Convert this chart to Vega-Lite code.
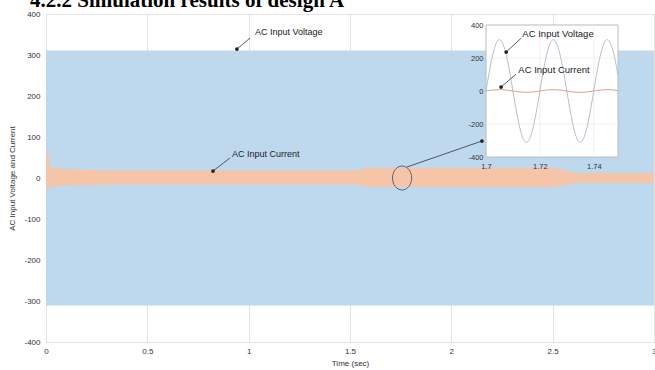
{
  "$schema": "https://vega.github.io/schema/vega-lite/v6.json",
  "width": 608,
  "height": 328,
  "autosize": {"type": "none"},
  "padding": {"left": 46, "top": 14, "right": 1, "bottom": 28},
  "background": "white",
  "config": {
    "view": {"stroke": "#9a9a9a", "strokeWidth": 1},
    "font": "Liberation Sans",
    "axis": {"labelFont": "Liberation Sans", "titleFont": "Liberation Sans", "labelColor": "#333333", "titleColor": "#333333", "labelFontSize": 8, "titleFontSize": 8, "titleFontWeight": "normal"}
  },
  "layer": [
    {
      "layer": [
        {
          "data": {"values": [{"t": 0, "v": 311, "v2": -311}, {"t": 3, "v": 311, "v2": -311}]},
          "mark": {"type": "area", "color": "#bed8ee", "opacity": 1},
          "encoding": {
            "x": {"field": "t", "type": "quantitative", "scale": {"domain": [0, 3], "nice": false, "zero": false},
              "axis": {"values": [0, 0.5, 1, 1.5, 2, 2.5, 3], "labelExpr": "'' + datum.value", "title": "Time (sec)", "grid": true, "gridColor": "#e3e3e3", "ticks": false, "domain": false, "labelPadding": 5, "titlePadding": 4, "labelFlush": false, "labelOverlap": false}},
            "y": {"field": "v", "type": "quantitative", "scale": {"domain": [-400, 400], "nice": false, "zero": false},
              "axis": {"values": [-400, -300, -200, -100, 0, 100, 200, 300, 400], "labelExpr": "'' + datum.value", "title": "AC Input Voltage and Current", "grid": true, "gridColor": "#e3e3e3", "ticks": false, "domain": false, "labelPadding": 6, "titlePadding": 7, "labelFlush": false, "labelOverlap": false}},
            "y2": {"field": "v2"}
          }
        },
        {
          "data": {"values": [
            {"t": 0, "v": 0, "v2": 0},
            {"t": 0.004, "v": 60, "v2": -30},
            {"t": 0.012, "v": 60, "v2": -30},
            {"t": 0.02, "v": 25, "v2": -20},
            {"t": 0.1, "v": 22, "v2": -18},
            {"t": 0.3, "v": 18, "v2": -16},
            {"t": 1.55, "v": 18, "v2": -16},
            {"t": 1.58, "v": 25, "v2": -22},
            {"t": 2.5, "v": 25, "v2": -22},
            {"t": 2.62, "v": 12, "v2": -12},
            {"t": 3, "v": 12, "v2": -12}
          ]},
          "mark": {"type": "area", "color": "#f6c4a6", "opacity": 1},
          "encoding": {
            "x": {"field": "t", "type": "quantitative"},
            "y": {"field": "v", "type": "quantitative"},
            "y2": {"field": "v2"}
          }
        },
        {
          "data": {"values": [
            {"t": 0.942, "v": 314.6, "t2": 1.007, "v2": 341.5},
            {"t": 0.824, "v": 17, "t2": 0.908, "v2": 48.8},
            {"t": 1.781, "v": 26.8, "t2": 2.151, "v2": 90.2}
          ]},
          "mark": {"type": "rule", "color": "#333333", "strokeWidth": 0.8},
          "encoding": {
            "x": {"field": "t", "type": "quantitative"},
            "y": {"field": "v", "type": "quantitative"},
            "x2": {"field": "t2"},
            "y2": {"field": "v2"}
          }
        },
        {
          "data": {"values": [{"t": 0.942, "v": 314.6}, {"t": 0.824, "v": 17}, {"t": 2.151, "v": 90.2}]},
          "mark": {"type": "point", "filled": true, "size": 14, "color": "#222222", "opacity": 1},
          "encoding": {
            "x": {"field": "t", "type": "quantitative"},
            "y": {"field": "v", "type": "quantitative"}
          }
        },
        {
          "data": {"values": [{"t": 1.031, "v": 356, "label": "AC Input Voltage"}, {"t": 0.918, "v": 58.5, "label": "AC Input Current"}]},
          "mark": {"type": "text", "align": "left", "baseline": "middle", "fontSize": 9, "color": "#222222", "font": "Liberation Sans"},
          "encoding": {
            "x": {"field": "t", "type": "quantitative"},
            "y": {"field": "v", "type": "quantitative"},
            "text": {"field": "label"}
          }
        },
        {
          "data": {"values": [{"t": 1.757, "v": 0}]},
          "mark": {"type": "point", "shape": "M -0.8 0 A 0.8 1 0 1 1 0.8 0 A 0.8 1 0 1 1 -0.8 0 Z", "size": 576, "filled": false, "stroke": "#55657a", "strokeWidth": 1, "opacity": 1},
          "encoding": {
            "x": {"field": "t", "type": "quantitative"},
            "y": {"field": "v", "type": "quantitative"}
          }
        },
        {
          "data": {"values": [{"t": -0.079, "v": 418, "label": "4.2.2 Simulation results of design A"}]},
          "mark": {"type": "text", "align": "left", "baseline": "alphabetic", "fontSize": 21, "fontWeight": "bold", "font": "Liberation Serif", "color": "#000000"},
          "encoding": {
            "x": {"field": "t", "type": "quantitative"},
            "y": {"field": "v", "type": "quantitative"},
            "text": {"field": "label"}
          }
        }
      ]
    },
    {
      "layer": [
        {
          "data": {"values": [{"t": 1.7, "t2": 1.749, "v": -400, "v2": 400}]},
          "mark": {"type": "rect", "fill": "white", "stroke": "#bbbbbb", "strokeWidth": 1},
          "encoding": {
            "x": {"field": "t", "type": "quantitative", "scale": {"domain": [1.7, 1.749], "range": [440, 572], "nice": false, "zero": false},
              "axis": {"orient": "bottom", "offset": -185, "values": [1.7, 1.72, 1.74], "labelExpr": "'' + datum.value", "title": null, "grid": false, "ticks": false, "domain": false, "labelPadding": 5, "zindex": 1, "labelFontSize": 7.5, "labelFlush": false, "labelOverlap": false}},
            "x2": {"field": "t2"},
            "y": {"field": "v", "type": "quantitative", "scale": {"domain": [-400, 400], "range": [143, 11], "nice": false, "zero": false},
              "axis": {"orient": "left", "offset": -440, "values": [-400, -200, 0, 200, 400], "labelExpr": "'' + datum.value", "title": null, "grid": false, "ticks": false, "domain": false, "labelPadding": 3, "zindex": 1, "labelFontSize": 7.5, "labelFlush": false, "labelOverlap": false}},
            "y2": {"field": "v2"}
          }
        },
        {
          "data": {"values": [
            {"t": 1.72, "t2": 1.72, "v": -400, "v2": 400},
            {"t": 1.74, "t2": 1.74, "v": -400, "v2": 400},
            {"t": 1.7, "t2": 1.749, "v": 200, "v2": 200},
            {"t": 1.7, "t2": 1.749, "v": -200, "v2": -200}
          ]},
          "mark": {"type": "rule", "color": "#efefef", "strokeWidth": 1},
          "encoding": {
            "x": {"field": "t", "type": "quantitative"},
            "x2": {"field": "t2"},
            "y": {"field": "v", "type": "quantitative"},
            "y2": {"field": "v2"}
          }
        },
        {
          "data": {"name": "inset"},
          "mark": {"type": "line", "color": "#b3c1cf", "strokeWidth": 1, "interpolate": "monotone"},
          "encoding": {
            "x": {"field": "t", "type": "quantitative"},
            "y": {"field": "v", "type": "quantitative"}
          }
        },
        {
          "data": {"name": "inset"},
          "mark": {"type": "line", "color": "#d9a08a", "strokeWidth": 1, "interpolate": "monotone"},
          "encoding": {
            "x": {"field": "t", "type": "quantitative"},
            "y": {"field": "i", "type": "quantitative"}
          }
        },
        {
          "data": {"values": [
            {"t": 1.7075, "v": 236, "t2": 1.7131, "v2": 321},
            {"t": 1.7056, "v": 24, "t2": 1.7112, "v2": 103}
          ]},
          "mark": {"type": "rule", "color": "#333333", "strokeWidth": 0.8},
          "encoding": {
            "x": {"field": "t", "type": "quantitative"},
            "y": {"field": "v", "type": "quantitative"},
            "x2": {"field": "t2"},
            "y2": {"field": "v2"}
          }
        },
        {
          "data": {"values": [{"t": 1.7075, "v": 236}, {"t": 1.7056, "v": 24}]},
          "mark": {"type": "point", "filled": true, "size": 14, "color": "#222222", "opacity": 1},
          "encoding": {
            "x": {"field": "t", "type": "quantitative"},
            "y": {"field": "v", "type": "quantitative"}
          }
        },
        {
          "data": {"values": [{"t": 1.7135, "v": 345, "label": "AC Input Voltage"}, {"t": 1.712, "v": 127, "label": "AC Input Current"}]},
          "mark": {"type": "text", "align": "left", "baseline": "middle", "fontSize": 9.5, "color": "#222222", "font": "Liberation Sans"},
          "encoding": {
            "x": {"field": "t", "type": "quantitative"},
            "y": {"field": "v", "type": "quantitative"},
            "text": {"field": "label"}
          }
        }
      ]
    }
  ],
  "resolve": {"scale": {"x": "independent", "y": "independent"}, "axis": {"x": "independent", "y": "independent"}},
  "datasets": {
    "inset": [
      {"t": 1.700, "v": 0, "i": 0}, {"t": 1.701, "v": 96.1, "i": 2.5}, {"t": 1.702, "v": 182.8, "i": 4.7}, {"t": 1.703, "v": 251.6, "i": 6.5}, {"t": 1.704, "v": 295.8, "i": 7.6},
      {"t": 1.705, "v": 311, "i": 8}, {"t": 1.706, "v": 295.8, "i": 7.6}, {"t": 1.707, "v": 251.6, "i": 6.5}, {"t": 1.708, "v": 182.8, "i": 4.7}, {"t": 1.709, "v": 96.1, "i": 2.5},
      {"t": 1.710, "v": 0, "i": 0}, {"t": 1.711, "v": -96.1, "i": -2.5}, {"t": 1.712, "v": -182.8, "i": -4.7}, {"t": 1.713, "v": -251.6, "i": -6.5}, {"t": 1.714, "v": -295.8, "i": -7.6},
      {"t": 1.715, "v": -311, "i": -8}, {"t": 1.716, "v": -295.8, "i": -7.6}, {"t": 1.717, "v": -251.6, "i": -6.5}, {"t": 1.718, "v": -182.8, "i": -4.7}, {"t": 1.719, "v": -96.1, "i": -2.5},
      {"t": 1.720, "v": 0, "i": 0}, {"t": 1.721, "v": 96.1, "i": 2.5}, {"t": 1.722, "v": 182.8, "i": 4.7}, {"t": 1.723, "v": 251.6, "i": 6.5}, {"t": 1.724, "v": 295.8, "i": 7.6},
      {"t": 1.725, "v": 311, "i": 8}, {"t": 1.726, "v": 295.8, "i": 7.6}, {"t": 1.727, "v": 251.6, "i": 6.5}, {"t": 1.728, "v": 182.8, "i": 4.7}, {"t": 1.729, "v": 96.1, "i": 2.5},
      {"t": 1.730, "v": 0, "i": 0}, {"t": 1.731, "v": -96.1, "i": -2.5}, {"t": 1.732, "v": -182.8, "i": -4.7}, {"t": 1.733, "v": -251.6, "i": -6.5}, {"t": 1.734, "v": -295.8, "i": -7.6},
      {"t": 1.735, "v": -311, "i": -8}, {"t": 1.736, "v": -295.8, "i": -7.6}, {"t": 1.737, "v": -251.6, "i": -6.5}, {"t": 1.738, "v": -182.8, "i": -4.7}, {"t": 1.739, "v": -96.1, "i": -2.5},
      {"t": 1.740, "v": 0, "i": 0}, {"t": 1.741, "v": 96.1, "i": 2.5}, {"t": 1.742, "v": 182.8, "i": 4.7}, {"t": 1.743, "v": 251.6, "i": 6.5}, {"t": 1.744, "v": 295.8, "i": 7.6},
      {"t": 1.745, "v": 311, "i": 8}, {"t": 1.746, "v": 295.8, "i": 7.6}, {"t": 1.747, "v": 251.6, "i": 6.5}, {"t": 1.748, "v": 182.8, "i": 4.7}, {"t": 1.749, "v": 96.1, "i": 2.5}
    ]
  }
}
